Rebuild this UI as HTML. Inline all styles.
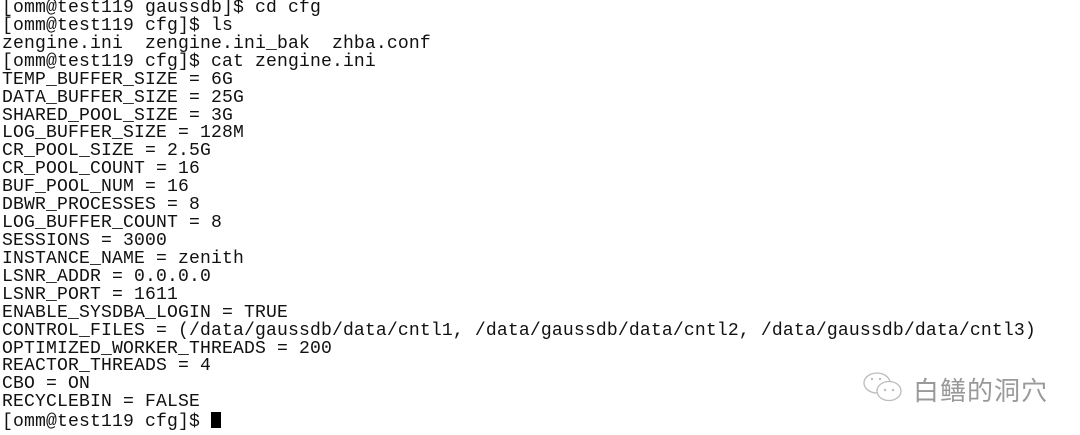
<!DOCTYPE html>
<html><head><meta charset="utf-8"><style>
html,body{margin:0;padding:0;background:#fff;width:1080px;height:435px;overflow:hidden;position:relative}
pre{position:absolute;left:2px;top:0px;margin:0;font-family:"Liberation Mono",monospace;font-size:18.1px;line-height:17.92px;color:#111;letter-spacing:0.14px}
.cur{display:inline-block;width:10px;height:16px;background:#000;vertical-align:-2px}
.wm{position:absolute;left:913px;top:371px;font-family:"Liberation Sans","Noto Sans CJK SC",sans-serif;font-size:26px;color:#999;letter-spacing:1px}
svg{position:absolute;left:862px;top:370px}
</style></head><body>
<pre>[omm@test119 gaussdb]$ cd cfg
[omm@test119 cfg]$ ls
zengine.ini  zengine.ini_bak  zhba.conf
[omm@test119 cfg]$ cat zengine.ini
TEMP_BUFFER_SIZE = 6G
DATA_BUFFER_SIZE = 25G
SHARED_POOL_SIZE = 3G
LOG_BUFFER_SIZE = 128M
CR_POOL_SIZE = 2.5G
CR_POOL_COUNT = 16
BUF_POOL_NUM = 16
DBWR_PROCESSES = 8
LOG_BUFFER_COUNT = 8
SESSIONS = 3000
INSTANCE_NAME = zenith
LSNR_ADDR = 0.0.0.0
LSNR_PORT = 1611
ENABLE_SYSDBA_LOGIN = TRUE
CONTROL_FILES = (/data/gaussdb/data/cntl1, /data/gaussdb/data/cntl2, /data/gaussdb/data/cntl3)
OPTIMIZED_WORKER_THREADS = 200
REACTOR_THREADS = 4
CBO = ON
RECYCLEBIN = FALSE
[omm@test119 cfg]$ <span class="cur"></span></pre>
<svg width="44" height="36" viewBox="0 0 44 36"><ellipse cx="15" cy="13" rx="13" ry="10" fill="none" stroke="#bbb" stroke-width="1.3"/><ellipse cx="27" cy="21" rx="12" ry="9.5" fill="#fff" stroke="#bbb" stroke-width="1.3"/><circle cx="23" cy="20" r="1.2" fill="#bbb"/><circle cx="31" cy="20" r="1.2" fill="#bbb"/><circle cx="10" cy="9" r="1.2" fill="#bbb"/><circle cx="18" cy="9" r="1.2" fill="#bbb"/></svg>
<div class="wm">白鳝的洞穴</div>
</body></html>
